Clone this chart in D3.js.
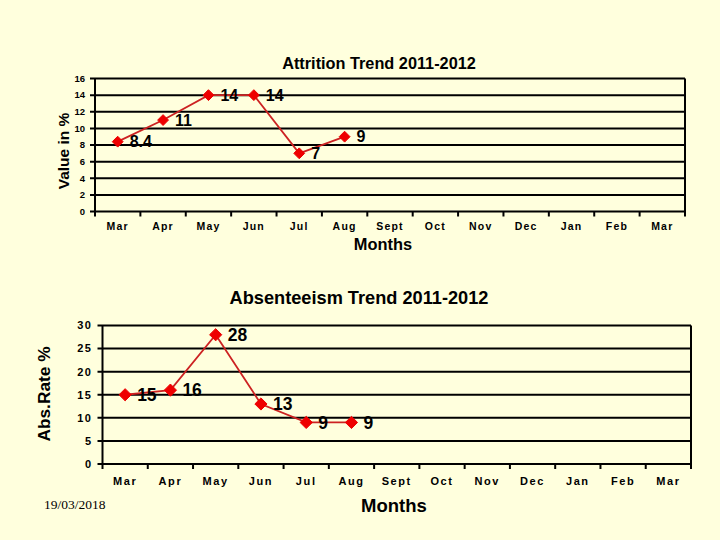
<!DOCTYPE html>
<html><head><meta charset="utf-8">
<script src="https://cdn.jsdelivr.net/npm/d3@7"></script>
<style>
html,body{margin:0;padding:0;background:#FFFFDD;}
svg{display:block;font-family:"Liberation Sans",Arial,sans-serif;}
</style></head>
<body>
<svg id="c" width="720" height="540"></svg>
<script>
const months = ["Mar","Apr","May","Jun","Jul","Aug","Sept","Oct","Nov","Dec","Jan","Feb","Mar"];
const attritionValues = [8.4, 11, 14, 14, 7, 9];
const attritionLabels = ["8.4","11","14","14","7","9"];
const absenteeismValues = [15, 16, 28, 13, 9, 9];
const absenteeismLabels = ["15","16","28","13","9","9"];
const attritionTicks = [0,2,4,6,8,10,12,14,16];
const absenteeismTicks = [0,5,10,15,20,25,30];

const svg = d3.select("#c");
svg.append("rect").attr("width",720).attr("height",540).attr("fill","#FFFFDD");

function drawChart(cfg){
  const g = svg.append("g");
  const idx = d3.range(months.length);
  const x = d3.scaleBand().domain(idx).range([cfg.left, cfg.right]);
  const y = d3.scaleLinear().domain([0, cfg.max]).range([cfg.bottom, cfg.top]);

  g.selectAll(".grid").data(cfg.ticks).join("line")
    .attr("x1", cfg.left-5).attr("x2", cfg.right)
    .attr("y1", d=>y(d)).attr("y2", d=>y(d))
    .attr("stroke","#000").attr("stroke-width",2);
  g.append("line").attr("x1",cfg.left).attr("x2",cfg.left).attr("y1",cfg.top).attr("y2",cfg.bottom+5)
    .attr("stroke","#000").attr("stroke-width",2);
  g.append("line").attr("x1",cfg.right).attr("x2",cfg.right).attr("y1",cfg.top).attr("y2",cfg.bottom+5)
    .attr("stroke","#000").attr("stroke-width",2);
  g.selectAll(".xt").data(idx.slice(1)).join("line")
    .attr("x1", d=>x(d)).attr("x2", d=>x(d))
    .attr("y1", cfg.bottom).attr("y2", cfg.bottom+5)
    .attr("stroke","#000").attr("stroke-width",2);
  g.selectAll(".yl").data(cfg.ticks).join("text")
    .attr("x", cfg.left-10).attr("y", d=>y(d)).attr("dy","0.35em")
    .attr("text-anchor","end").attr("font-size",cfg.tickSize).attr("font-weight","bold")
    .attr("letter-spacing",cfg.tickSpacing)
    .text(d=>d);
  g.selectAll(".xl").data(idx).join("text")
    .attr("x", d=>x(d)+x.bandwidth()/2).attr("y", cfg.xLabelY).attr("dy","0.35em")
    .attr("text-anchor","middle").attr("font-size",cfg.monthSize).attr("font-weight","bold")
    .attr("letter-spacing",cfg.monthSpacing)
    .text(d=>months[d]);
  g.append("text").attr("x",cfg.titleX).attr("y",cfg.titleY).attr("dy","0.35em")
    .attr("text-anchor","middle").attr("font-size",cfg.titleSize).attr("font-weight","bold").text(cfg.title);
  g.append("text").attr("x",cfg.monthsX).attr("y",cfg.monthsY).attr("dy","0.35em")
    .attr("text-anchor","middle").attr("font-size",cfg.monthsSize).attr("font-weight","bold").text("Months");
  g.append("text").attr("transform",`translate(${cfg.yTitleX},${cfg.yTitleY}) rotate(-90)`)
    .attr("dy","0.35em").attr("text-anchor","middle").attr("font-size",cfg.yTitleSize).attr("font-weight","bold").text(cfg.yTitle);

  const line = d3.line().x((d,i)=>x(i)+x.bandwidth()/2).y(d=>y(d));
  g.append("path").datum(cfg.values).attr("d",line)
    .attr("fill","none").attr("stroke","#CC2222").attr("stroke-width",1.8);
  const sym = d3.symbol().type(d3.symbolDiamond2).size(cfg.markerSize);
  g.selectAll(".pt").data(cfg.values).join("path")
    .attr("d", sym)
    .attr("transform",(d,i)=>`translate(${x(i)+x.bandwidth()/2},${y(d)})`)
    .attr("fill","#EE0000").attr("stroke","#EE0000");
  g.selectAll(".lab").data(cfg.values).join("text")
    .attr("x",(d,i)=>x(i)+x.bandwidth()/2+12).attr("y",d=>y(d)).attr("dy","0.35em")
    .attr("font-size",cfg.labelSize).attr("font-weight","bold").attr("fill","#000")
    .text((d,i)=>cfg.labels[i]);
}

drawChart({left:95,right:685,top:78.5,bottom:211.5,max:16,ticks:attritionTicks,
  values:attritionValues,labels:attritionLabels,xLabelY:226.5,
  tickSize:9.5,tickSpacing:0,monthSize:10.5,monthSpacing:1.2,labelSize:16,markerSize:75,
  title:"Attrition Trend 2011-2012",titleX:379,titleY:63,titleSize:16.3,
  monthsX:383,monthsY:244,monthsSize:16.4,
  yTitle:"Value in %",yTitleX:64,yTitleY:151,yTitleSize:15.5});

drawChart({left:102.5,right:691,top:325.5,bottom:464,max:30,ticks:absenteeismTicks,
  values:absenteeismValues,labels:absenteeismLabels,xLabelY:481.5,
  tickSize:11,tickSpacing:1.5,monthSize:11,monthSpacing:1.6,labelSize:17.5,markerSize:95,
  title:"Absenteeism Trend 2011-2012",titleX:359,titleY:297.5,titleSize:18.2,
  monthsX:394,monthsY:506,monthsSize:18.5,
  yTitle:"Abs.Rate %",yTitleX:44,yTitleY:394,yTitleSize:17.3});

svg.append("text").attr("x",44).attr("y",509).attr("font-family","'Liberation Serif','Times New Roman',serif")
  .attr("font-size",13.5).text("19/03/2018");
</script>
</body></html>
